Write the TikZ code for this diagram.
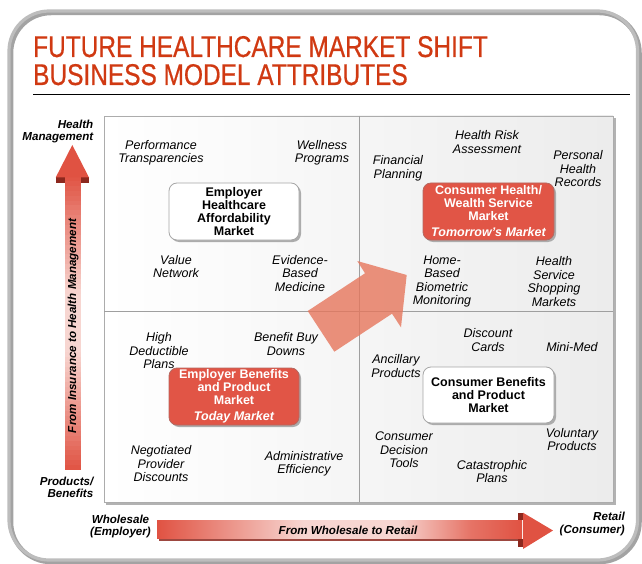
\documentclass[tikz,border=0pt]{standalone}
\usepackage{fontspec}
\setmainfont{Liberation Sans}
\newfontfamily\titlefont[FakeStretch=0.815, FakeBold=0.6]{Liberation Sans}
\usetikzlibrary{shadows}

\definecolor{titlered}{RGB}{208,57,18}
\definecolor{arrowred}{RGB}{224,82,66}
\definecolor{arrowlight}{RGB}{247,214,209}
\definecolor{arrowdark}{RGB}{140,40,30}
\definecolor{boxred}{RGB}{225,85,70}
\definecolor{diagred}{RGB}{230,118,92}

% horizontal shaft shading: red ends, pale middle (path spans 25bp..75bp)
\pgfdeclarehorizontalshading{hshaft}{100bp}{color(0bp)=(arrowred); color(25bp)=(arrowred);
  color(45bp)=(arrowlight); color(58bp)=(arrowlight); color(68bp)=(arrowred!75!arrowlight);
  color(75bp)=(arrowred); color(100bp)=(arrowred)}

\tikzset{
  item/.style={align=center, inner sep=0pt, font=\fontsize{12.5}{13.5}\selectfont\itshape},
  axislabel/.style={inner sep=0pt, font=\fontsize{11.6}{12.7}\selectfont\bfseries\itshape},
  marketbox/.style={rounded corners=8pt, align=center, inner sep=0pt,
    minimum width=130, minimum height=57,
    font=\fontsize{12.5}{13}\selectfont\bfseries,
    drop shadow={shadow xshift=2pt, shadow yshift=-2pt, fill=gray!65, opacity=1}},
  whitebox/.style={marketbox, fill=white, draw=gray!70, line width=0.8pt, text=black},
  redbox/.style={marketbox, fill=boxred, draw=gray!45!boxred, line width=0.8pt, text=white},
}

\begin{document}
\begin{tikzpicture}[x=1pt,y=-1pt]
\useasboundingbox (0,0) rectangle (642,564);

% outer rounded frame with its shadow
\draw[line width=4.5pt, gray!72, rounded corners=40pt] (11,13) rectangle (639.5,562);
\draw[line width=3.2pt, gray!52, rounded corners=40pt] (9,11) rectangle (637.5,560);

% heading
\node[anchor=base west, inner sep=0pt, text=titlered,
      font=\titlefont\fontsize{30}{28}\selectfont] (title1) at (33,57) {FUTURE HEALTHCARE MARKET SHIFT};
\node[anchor=base west, inner sep=0pt, text=titlered,
      font=\titlefont\fontsize{30}{28}\selectfont] (title2) at (33,85) {BUSINESS MODEL ATTRIBUTES};
\draw[line width=0.9pt] (33,94) -- (630,94);

% quadrant grid
\fill[gray!60] (106,118) rectangle (615.5,504.5);
\shade[left color=white, right color=gray!15] (104,116) rectangle (613,502);
\draw[gray!65, line width=0.8pt] (104,116) rectangle (613,502);
\draw[gray!75, line width=1pt] (359,116) -- (359,502);
\draw[gray!75, line width=1pt] (104,311) -- (613,311);

% diagonal shift arrow
\fill[diagred, opacity=0.8] (307.7,311) -- (365,273.3) -- (357.3,261) -- (406.7,275)
  -- (401,327.3) -- (392,313.7) -- (334.3,351.7) -- cycle;

% vertical axis arrow: shaft built from thin bands, red ends and pale middle
\foreach \i in {0,...,59}{
  \pgfmathsetmacro\t{(\i+0.5)/60}
  \pgfmathtruncatemacro\m{\t<0.4 ? 100*(1-\t/0.4) : (\t<0.6 ? 0 : 100*(\t-0.6)/0.4)}
  \fill[arrowred!\m!arrowlight] (65,{176+\i*4.9}) rectangle (80.7,{176+(\i+1)*4.9+0.4});
}
\fill[arrowdark] (55.7,177) rectangle (65,183);
\fill[arrowdark] (80.7,177) rectangle (89,183);
\fill[arrowred] (72.3,145) -- (89,177.5) -- (55.7,177.5) -- cycle;

% horizontal axis arrow
\fill[arrowdark!85] (158.5,537) rectangle (520,540.5);
\shade[shading=hshaft] (157,520) rectangle (522,538.5);
\fill[arrowdark] (518,512.7) rectangle (523.5,520);
\fill[arrowdark] (518,538.5) rectangle (523.5,547);
\fill[arrowred] (523,512.7) -- (553,530.5) -- (523,549) -- cycle;

% axis labels
\node[axislabel, align=right, anchor=east] (hm) at (93.5,131.5) {Health\\Management};
\node[axislabel, align=right, anchor=east] (pb) at (93.5,487.2) {Products/\\Benefits};
\node[axislabel, align=center] (ws) at (120.5,526.5) {Wholesale\\(Employer)};
\node[axislabel, align=right, anchor=east] (rt) at (625,524.3) {Retail\\(Consumer)};
\node[axislabel, rotate=90] (vtext) at (73,326) {From Insurance to Health Management};
\node[axislabel] (htext) at (348,530) {From Wholesale to Retail};

% upper left quadrant
\node[item] (perf) at (161,153) {Performance\\Transparencies};
\node[item] (well) at (322,153) {Wellness\\Programs};
\node[whitebox] (ehaf) at (234,211.5) {Employer\\Healthcare\\Affordability\\Market};
\node[item] (value) at (176,266.5) {Value\\Network};
\node[item] (evid) at (300,273.5) {Evidence-\\Based\\Medicine};

% upper right quadrant
\node[item] (risk) at (487,142) {Health Risk\\Assessment};
\node[item] (fin) at (398,168.5) {Financial\\Planning};
\node[item] (phr) at (578,169) {Personal\\Health\\Records};
\node[redbox, minimum width=131] (chws) at (488.5,211.5) {Consumer Health/\\Wealth Service\\Market\\[3pt]{\itshape Tomorrow's Market}};
\node[item] (home) at (442,281.5) {Home-\\Based\\Biometric\\Monitoring};
\node[item] (shop) at (554,281.5) {Health\\Service\\Shopping\\Markets};

% lower left quadrant
\node[item] (hdp) at (159,351) {High\\Deductible\\Plans};
\node[item] (bbd) at (286,344) {Benefit Buy\\Downs};
\node[redbox] (ebpm) at (234,396.5) {Employer Benefits\\and Product\\Market\\[3pt]{\itshape Today Market}};
\node[item] (npd) at (161,464) {Negotiated\\Provider\\Discounts};
\node[item] (adm) at (304,464) {Administrative\\Efficiency};

% lower right quadrant
\node[item] (disc) at (488,340) {Discount\\Cards};
\node[item] (mini) at (572,347.5) {Mini-Med};
\node[item] (anc) at (396,366) {Ancillary\\Products};
\node[whitebox, minimum width=131, minimum height=56] (cbpm) at (488.5,395) {Consumer Benefits\\and Product\\Market};
\node[item] (cdt) at (404,450) {Consumer\\Decision\\Tools};
\node[item] (vol) at (572,439.5) {Voluntary\\Products};
\node[item] (cat) at (492,471.5) {Catastrophic\\Plans};
\end{tikzpicture}
\end{document}
